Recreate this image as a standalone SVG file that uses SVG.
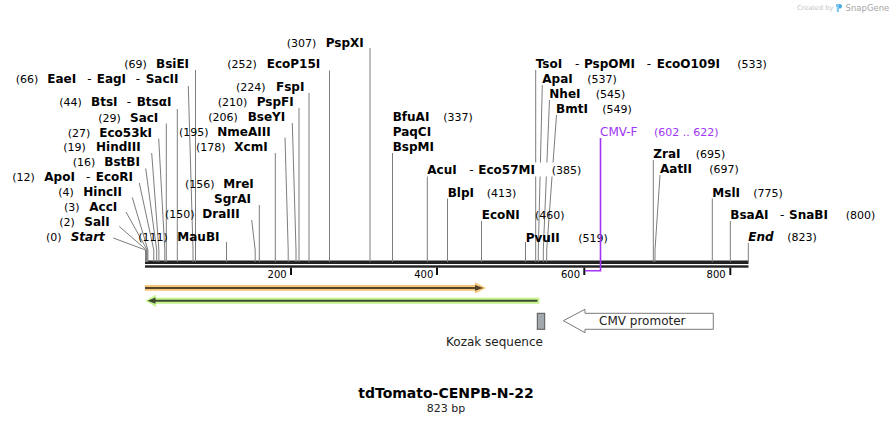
<svg xmlns="http://www.w3.org/2000/svg" width="894" height="424" viewBox="0 0 894 424">
<style>
text{font-family:"DejaVu Sans",Verdana,sans-serif;fill:#000}
.n{font-size:12px;font-weight:bold}
.i{font-size:12px;font-weight:bold;font-style:italic}
.p{font-size:11px}
.d{font-size:12px}
.t{font-size:10px}
.l{fill:none;stroke:#7d7d7d;stroke-width:1}
.pr{fill:#a035f5}
</style>
<rect width="894" height="424" fill="#fff"/>
<g id="watermark">
<text x="797" y="10" style="font-size:6.6px;fill:#c4c4c4">Created by</text>
<path d="M836,4 h3 v8 h-2.2 v-5 h-0.8z" fill="#7cc6f0"/>
<path d="M839,4 q3,0 3,2.3 q0,2.3 -3,2.3z" fill="#4aa8e3"/>
<text x="845.5" y="11" style="font-size:8.5px;fill:#a6a6a6">SnapGene</text>
</g>
<g id="backbone">
<rect x="145" y="260.5" width="603.5" height="3.5" fill="#222"/>
<rect x="145" y="265.3" width="603.5" height="2.4" fill="#222"/>
<rect x="290" y="267.5" width="2" height="7.5" fill="#111"/>
<rect x="436" y="267.5" width="2" height="7.5" fill="#111"/>
<rect x="583.3" y="267.5" width="2" height="7.5" fill="#111"/>
<rect x="729.3" y="267.5" width="2" height="7.5" fill="#111"/>
<text class="t" x="286.7" y="277.5" text-anchor="end">200</text>
<text class="t" x="433.3" y="277.5" text-anchor="end">400</text>
<text class="t" x="580" y="277.5" text-anchor="end">600</text>
<text class="t" x="725.7" y="277.5" text-anchor="end">800</text>
</g>
<g id="connectors">
<path class="l" d="M113.3,238 L145.5,250 V262"/>
<path class="l" d="M119.3,226.5 L146.5,250 V262"/>
<path class="l" d="M126,212 L147.2,250 V262"/>
<path class="l" d="M132.3,197.5 L147.9,250 V262"/>
<path class="l" d="M139.3,183 L153.8,250 V262"/>
<path class="l" d="M145.7,168.5 L156.7,250 V262"/>
<path class="l" d="M151.7,153 L158.9,250 V262"/>
<path class="l" d="M158.7,138.5 L164.8,250 V262"/>
<path class="l" d="M166.3,123.5 V262"/>
<path class="l" d="M177.3,109 V262"/>
<path class="l" d="M188.3,86 L193,250 V262"/>
<path class="l" d="M195.5,70 V262"/>
<path class="l" d="M226.5,242 V262"/>
<path class="l" d="M251.7,220 L255.2,250 V262"/>
<path class="l" d="M259.3,205 V262"/>
<path class="l" d="M275.3,153 V262"/>
<path class="l" d="M285,137.5 L288.2,250 V262"/>
<path class="l" d="M292.3,123 L296,250 V262"/>
<path class="l" d="M299,108 V262"/>
<path class="l" d="M309,93 V262"/>
<path class="l" d="M329.5,70.5 V262"/>
<path class="l" d="M370,48 V262"/>
<path class="l" d="M392.5,153 V262"/>
<path class="l" d="M427.3,176 V262"/>
<path class="l" d="M447.5,198.5 V262"/>
<path class="l" d="M481.5,221 V262"/>
<path class="l" d="M525.5,242 V262"/>
<path class="l" d="M535.7,70 V262"/>
<path class="l" d="M542.3,85 L538.3,250 V262"/>
<path class="l" d="M549.5,100 L543.3,250 V262"/>
<path class="l" d="M556.5,115 L546.7,250 V262"/>
<path class="l" d="M653.3,160 V262"/>
<path class="l" d="M660,175 L655,250 V262"/>
<path class="l" d="M712.3,198.5 V262"/>
<path class="l" d="M730.3,221 V262"/>
<path class="l" d="M748.3,243 V262"/>
</g>
<g id="BsiEI"><text class="p" x="124.3" y="68.4">(69)</text><text class="n" x="156" y="68.4">BsiEI</text></g>
<g id="EaeI"><text class="p" x="15.7" y="83.4">(66)</text><text class="n" x="47.3" y="83.4">EaeI</text><text class="d" x="87.3" y="83.4">-</text><text class="n" x="96.7" y="83.4">EagI</text><text class="d" x="135.7" y="83.4">-</text><text class="n" x="145.7" y="83.4">SacII</text></g>
<g id="BtsI"><text class="p" x="59.3" y="106">(44)</text><text class="n" x="91" y="106">BtsI</text><text class="d" x="126.7" y="106">-</text><text class="n" x="136.7" y="106">BtsαI</text></g>
<g id="SacI"><text class="p" x="98.3" y="121.5">(29)</text><text class="n" x="130" y="121.5">SacI</text></g>
<g id="Eco53kI"><text class="p" x="67.7" y="136.5">(27)</text><text class="n" x="99.3" y="136.5">Eco53kI</text></g>
<g id="HindIII"><text class="p" x="63.3" y="151">(19)</text><text class="n" x="96" y="151">HindIII</text></g>
<g id="BstBI"><text class="p" x="72.7" y="166">(16)</text><text class="n" x="104.3" y="166">BstBI</text></g>
<g id="ApoI"><text class="p" x="12.3" y="181.4">(12)</text><text class="n" x="44.3" y="181.4">ApoI</text><text class="d" x="86" y="181.4">-</text><text class="n" x="95.7" y="181.4">EcoRI</text></g>
<g id="HincII"><text class="p" x="58.3" y="196.4">(4)</text><text class="n" x="83.3" y="196.4">HincII</text></g>
<g id="AccI"><text class="p" x="64" y="211.4">(3)</text><text class="n" x="89.3" y="211.4">AccI</text></g>
<g id="SalI"><text class="p" x="59.3" y="226.4">(2)</text><text class="n" x="84.3" y="226.4">SalI</text></g>
<g id="Start"><text class="p" x="46" y="241.4">(0)</text><text class="i" x="70.7" y="241.4">Start</text></g>
<g id="PspXI"><text class="p" x="286.7" y="47">(307)</text><text class="n" x="325.7" y="47">PspXI</text></g>
<g id="EcoP15I"><text class="p" x="227.3" y="68.4">(252)</text><text class="n" x="266.7" y="68.4">EcoP15I</text></g>
<g id="FspI"><text class="p" x="236" y="91">(224)</text><text class="n" x="276" y="91">FspI</text></g>
<g id="PspFI"><text class="p" x="217.7" y="106">(210)</text><text class="n" x="256.7" y="106">PspFI</text></g>
<g id="BseYI"><text class="p" x="208.3" y="121.2">(206)</text><text class="n" x="247.7" y="121.2">BseYI</text></g>
<g id="NmeAIII"><text class="p" x="179" y="136.2">(195)</text><text class="n" x="217.3" y="136.2">NmeAIII</text></g>
<g id="XcmI"><text class="p" x="196" y="151.2">(178)</text><text class="n" x="234.3" y="151.2">XcmI</text></g>
<g id="MreI"><text class="p" x="185" y="187.7">(156)</text><text class="n" x="223.3" y="187.7">MreI</text><text class="n" x="214" y="202.8">SgrAI</text></g>
<g id="DraIII"><text class="p" x="165" y="218">(150)</text><text class="n" x="202.3" y="218">DraIII</text></g>
<g id="MauBI"><text class="p" x="138.3" y="241.4">(111)</text><text class="n" x="177.3" y="241.4">MauBI</text></g>
<g id="BfuAI"><text class="n" x="392.7" y="121.2">BfuAI</text><text class="p" x="443.3" y="121.2">(337)</text><text class="n" x="392.7" y="136.2">PaqCI</text><text class="n" x="392.7" y="151.2">BspMI</text></g>
<g id="AcuI"><rect x="425" y="162.5" width="160" height="14" fill="#fff"/><text class="n" x="427.3" y="173.7">AcuI</text><text class="d" x="469.3" y="173.7">-</text><text class="n" x="478.3" y="173.7">Eco57MI</text><text class="p" x="551.7" y="173.7">(385)</text></g>
<g id="BlpI"><text class="n" x="447.7" y="196.7">BlpI</text><text class="p" x="486.7" y="196.7">(413)</text></g>
<g id="EcoNI"><text class="n" x="481.7" y="218.7">EcoNI</text><text class="p" x="535" y="218.7">(460)</text></g>
<g id="PvuII"><text class="n" x="525.7" y="241.7">PvuII</text><text class="p" x="578.3" y="241.7">(519)</text></g>
<g id="TsoI"><text class="n" x="535.7" y="68.2">TsoI</text><text class="d" x="575" y="68.2">-</text><text class="n" x="584" y="68.2">PspOMI</text><text class="d" x="646.7" y="68.2">-</text><text class="n" x="656.7" y="68.2">EcoO109I</text><text class="p" x="737.3" y="68.2">(533)</text></g>
<g id="ApaI"><text class="n" x="542.3" y="83.4">ApaI</text><text class="p" x="587.3" y="83.4">(537)</text></g>
<g id="NheI"><text class="n" x="549.3" y="98.4">NheI</text><text class="p" x="595.7" y="98.4">(545)</text></g>
<g id="BmtI"><text class="n" x="556" y="113.4">BmtI</text><text class="p" x="602.3" y="113.4">(549)</text></g>
<g id="ZraI"><text class="n" x="653.3" y="158.4">ZraI</text><text class="p" x="695.7" y="158.4">(695)</text></g>
<g id="AatII"><text class="n" x="660" y="173.4">AatII</text><text class="p" x="709.3" y="173.4">(697)</text></g>
<g id="MslI"><text class="n" x="712.3" y="196.7">MslI</text><text class="p" x="753.3" y="196.7">(775)</text></g>
<g id="BsaAI"><text class="n" x="730.3" y="218.7">BsaAI</text><text class="d" x="780" y="218.7">-</text><text class="n" x="789" y="218.7">SnaBI</text><text class="p" x="845.7" y="218.7">(800)</text></g>
<g id="End"><text class="i" x="748.3" y="241.4">End</text><text class="p" x="787.3" y="241.4">(823)</text></g>
<g id="CMV-F">
<path d="M600.5,138 V270.7 H585" fill="none" stroke="#a035f5" stroke-width="1.6"/>
<text class="d pr" x="600" y="136">CMV-F</text><text class="p pr" x="654" y="136">(602 .. 622)</text>
</g>
<g id="orange-feature">
<rect x="145" y="285" width="333" height="5.8" fill="#f7c676"/>
<polygon points="475,282.3 486,287.9 475,293.5" fill="#f7c676"/>
<line x1="145" y1="287.9" x2="477" y2="287.9" stroke="#54432f" stroke-width="2"/>
<polygon points="475,285 483.3,287.9 475,290.8" fill="#54432f"/>
</g>
<g id="green-feature">
<rect x="154" y="297.6" width="385.5" height="6.2" fill="#c7f48f"/>
<polygon points="156,294.5 145.3,300.7 156,306.9" fill="#c7f48f"/>
<line x1="155" y1="300.7" x2="537.5" y2="300.7" stroke="#3e4a30" stroke-width="2"/>
<polygon points="155.5,297.6 147.5,300.7 155.5,303.8" fill="#3e4a30"/>
</g>
<g id="Kozak">
<rect x="537.3" y="313.3" width="7.4" height="16" fill="#a3a8ad" stroke="#555" stroke-width="1"/>
<text class="d" x="494.5" y="346.3" text-anchor="middle" style="fill:#222">Kozak sequence</text>
</g>
<g id="CMV-promoter">
<polygon points="563.3,320.7 585,309.3 585,313.3 713.3,313.3 713.3,329.3 585,329.3 585,332.7" fill="#fff" stroke="#7a7a7a" stroke-width="1"/>
<text class="d" x="642.3" y="325" text-anchor="middle" style="fill:#222">CMV promoter</text>
</g>
<g id="title">
<text x="446" y="398" text-anchor="middle" style="font-size:14px;font-weight:bold">tdTomato-CENPB-N-22</text>
<text x="446" y="412.3" text-anchor="middle" style="font-size:11px;fill:#222">823 bp</text>
</g>
</svg>
